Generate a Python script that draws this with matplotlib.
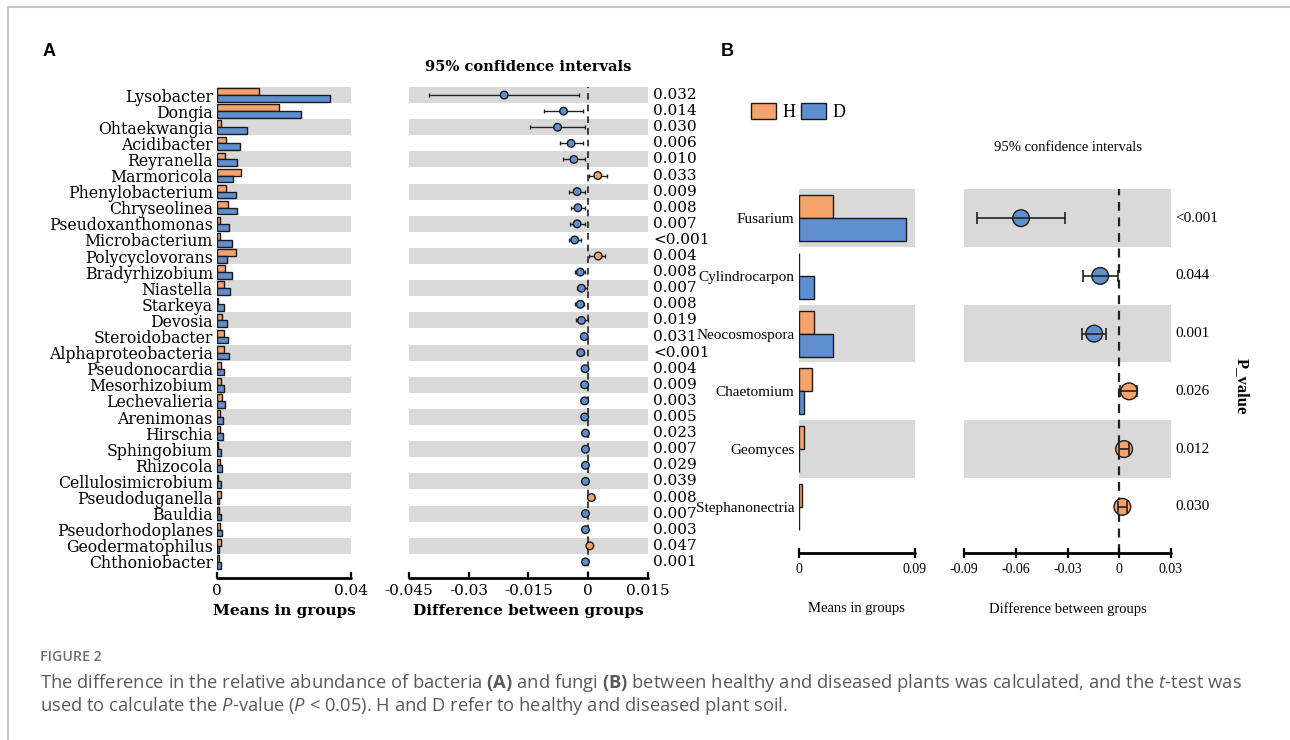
import numpy as np
import matplotlib
matplotlib.use("Agg")
from matplotlib import pyplot as plt
from matplotlib.patches import Patch
from matplotlib.lines import Line2D
from matplotlib import transforms

W, H = 1290, 740
ORANGE = "#F5A26B"
BLUE = "#5F8FD0"
BAND = "#d9d9d9"
EDGE = "#1a1a1a"

# ---- panel A: bacteria ----
genera_a = ["Lysobacter", "Dongia", "Ohtaekwangia", "Acidibacter", "Reyranella",
            "Marmoricola", "Phenylobacterium", "Chryseolinea", "Pseudoxanthomonas",
            "Microbacterium", "Polycyclovorans", "Bradyrhizobium", "Niastella",
            "Starkeya", "Devosia", "Steroidobacter", "Alphaproteobacteria",
            "Pseudonocardia", "Mesorhizobium", "Lechevalieria", "Arenimonas",
            "Hirschia", "Sphingobium", "Rhizocola", "Cellulosimicrobium",
            "Pseudoduganella", "Bauldia", "Pseudorhodoplanes", "Geodermatophilus",
            "Chthoniobacter"]
mean_h_a = [0.0124, 0.0186, 0.0011, 0.0026, 0.0025, 0.0071, 0.0027, 0.0034, 0.0009,
            0.0010, 0.0058, 0.0025, 0.0021, 0.0002, 0.0014, 0.0021, 0.0020, 0.0013,
            0.0012, 0.0015, 0.0009, 0.0010, 0.0004, 0.0008, 0.0004, 0.0011, 0.0005,
            0.0010, 0.0012, 0.0006]
mean_d_a = [0.0337, 0.0250, 0.0089, 0.0069, 0.0061, 0.0047, 0.0056, 0.0061, 0.0037,
            0.0044, 0.0031, 0.0045, 0.0040, 0.0020, 0.0031, 0.0034, 0.0036, 0.0022,
            0.0021, 0.0025, 0.0017, 0.0017, 0.0011, 0.0014, 0.0011, 0.0005, 0.0012,
            0.0016, 0.0007, 0.0012]
diff_a = [-0.0211, -0.0062, -0.0077, -0.0043, -0.0036, 0.0024, -0.0028, -0.0026,
          -0.0028, -0.0034, 0.0025, -0.0020, -0.0017, -0.0020, -0.0017, -0.0010,
          -0.0019, -0.0008, -0.0009, -0.0009, -0.0009, -0.0007, -0.0007, -0.0007,
          -0.0007, 0.0008, -0.0007, -0.0007, 0.0004, -0.0007]
lo_a = [-0.0401, -0.0112, -0.0146, -0.0072, -0.0064, 0.0002, -0.0048, -0.0044,
        -0.0047, -0.0048, 0.0003, -0.0033, -0.0028, -0.0033, -0.0030, -0.0018,
        -0.0027, -0.0013, -0.0017, -0.0017, -0.0016, -0.0012, -0.0013, -0.0012,
        -0.0012, 0.0000, -0.0012, -0.0011, 0.0000, -0.0011]
hi_a = [-0.0022, -0.0014, -0.0008, -0.0014, -0.0009, 0.0048, -0.0008, -0.0009,
        -0.0009, -0.0019, 0.0041, -0.0008, -0.0003, -0.0010, -0.0001, -0.0003,
        -0.0010, -0.0003, -0.0002, -0.0002, -0.0002, -0.0002, -0.0002, -0.0002,
        -0.0002, 0.0015, -0.0002, -0.0003, 0.0008, -0.0003]
pval_a = ["0.032", "0.014", "0.030", "0.006", "0.010", "0.033", "0.009", "0.008",
          "0.007", "<0.001", "0.004", "0.008", "0.007", "0.008", "0.019", "0.031",
          "<0.001", "0.004", "0.009", "0.003", "0.005", "0.023", "0.007", "0.029",
          "0.039", "0.008", "0.007", "0.003", "0.047", "0.001"]
xticks_bar_a = [0, 0.04]
xticklabels_bar_a = ["0", "0.04"]
xticks_ci_a = [-0.045, -0.03, -0.015, 0, 0.015]
xticklabels_ci_a = ["-0.045", "-0.03", "-0.015", "0", "0.015"]

# ---- panel B: fungi ----
genera_b = ["Fusarium", "Cylindrocarpon", "Neocosmospora", "Chaetomium",
            "Geomyces", "Stephanonectria"]
mean_h_b = [0.0265, 0.0005, 0.0118, 0.0100, 0.0041, 0.0028]
mean_d_b = [0.0830, 0.0116, 0.0263, 0.0041, 0.0003, 0.0002]
diff_b = [-0.0570, -0.0110, -0.0145, 0.0058, 0.0029, 0.0019]
lo_b = [-0.0827, -0.0211, -0.0217, 0.0006, 0.0002, -0.0008]
hi_b = [-0.0314, -0.0004, -0.0076, 0.0103, 0.0060, 0.0048]
pval_b = ["<0.001", "0.044", "0.001", "0.026", "0.012", "0.030"]
xticks_bar_b = [0, 0.09]
xticklabels_bar_b = ["0", "0.09"]
xticks_ci_b = [-0.09, -0.06, -0.03, 0, 0.03]
xticklabels_ci_b = ["-0.09", "-0.06", "-0.03", "0", "0.03"]

caption_head = "FIGURE 2"
caption_1 = ("The difference in the relative abundance of bacteria $\\mathbf{(A)}$ and fungi "
             "$\\mathbf{(B)}$ between healthy and diseased plants was calculated, and the "
             "$\\mathit{t}$-test was")
caption_2 = ("used to calculate the $\\mathit{P}$-value ($\\mathit{P}$ < 0.05). H and D refer "
             "to healthy and diseased plant soil.")

plt.rcParams["mathtext.fontset"] = "custom"
plt.rcParams["mathtext.rm"] = "Open Sans"
plt.rcParams["mathtext.it"] = "Open Sans:italic"
plt.rcParams["mathtext.bf"] = "Open Sans:bold"

fig = plt.figure(figsize=(W / 100, H / 100), dpi=100)


def add_ax(left, right, top, bottom):
    return fig.add_axes([left / W, 1 - bottom / H, (right - left) / W, (bottom - top) / H])


def style_axis(ax, font, size, tdir, tlen):
    for s in ["top", "left", "right"]:
        ax.spines[s].set_visible(False)
    ax.spines["bottom"].set_linewidth(2)
    ax.spines["bottom"].set_capstyle("round")
    ax.tick_params(axis="x", direction=tdir, length=tlen, width=1.6, pad=4,
                   labelsize=size)
    for lab in ax.get_xticklabels():
        lab.set_family(font)
    ax.tick_params(axis="y", length=0)


def bands(ax, n):
    for i in range(0, n, 2):
        ax.axhspan(i - 0.5, i + 0.5, color=BAND, zorder=0, lw=0)


def bar_panel(ax, names, mh, md, hbar, font, size, xt, xtl, ylim):
    y = np.arange(len(names))
    bands(ax, len(names))
    ax.barh(y - hbar / 2, mh, height=hbar, color=ORANGE, edgecolor=EDGE, lw=1, zorder=2)
    ax.barh(y + hbar / 2, md, height=hbar, color=BLUE, edgecolor=EDGE, lw=1, zorder=2)
    ax.set_xlim(xt[0], xt[-1])
    ax.set_ylim(*ylim)
    ax.set_yticks(y)
    ax.set_yticklabels(names, family=font, fontsize=size)
    ax.tick_params(axis="y", pad=3)
    ax.set_xticks(xt)
    ax.set_xticklabels(xtl)


def ci_panel(ax, diff, lo, hi, pv, msize, cap, elw, font, size, xt, xtl, ylim,
             dash_lw, err_on_top):
    diff = np.array(diff)
    y = np.arange(len(diff))
    bands(ax, len(diff))
    ax.errorbar(diff, y, xerr=[diff - np.array(lo), np.array(hi) - diff], fmt="none",
                ecolor="#222222", elinewidth=elw, capsize=cap, capthick=elw,
                zorder=4 if err_on_top else 2)
    colors = np.where(diff > 0, ORANGE, BLUE)
    ax.scatter(diff, y, s=msize, c=colors, edgecolors=EDGE, linewidths=1, zorder=3)
    ax.axvline(0, color="#222222", ls=(0, (4, 3)), lw=dash_lw, zorder=1)
    ax.set_xlim(xt[0], xt[-1])
    ax.set_ylim(*ylim)
    ax.set_yticks([])
    ax.set_xticks(xt)
    ax.set_xticklabels(xtl)
    trans = transforms.blended_transform_factory(ax.transAxes, ax.transData)
    for yi, p in zip(y, pv):
        ax.text(1.021, yi, p, transform=trans, va="center", ha="left",
                family=font, fontsize=size)


# panel A
SA = "DejaVu Serif"
ax1 = add_ax(217, 351, 87, 578)
bar_panel(ax1, genera_a, mean_h_a, mean_d_a, 0.42, SA, 11.3, xticks_bar_a,
          xticklabels_bar_a, (30.0, -0.5))
style_axis(ax1, SA, 11, "in", 4)
ax1.set_xlabel("Means in groups", family=SA, fontsize=11, fontweight="bold")
ax1.xaxis.set_label_coords(0.5, -0.052)

ax2 = add_ax(409, 648, 87, 578)
ci_panel(ax2, diff_a, lo_a, hi_a, pval_a, 30, 1.5, 1.0, SA, 11, xticks_ci_a,
         xticklabels_ci_a, (30.0, -0.5), 1.2, False)
style_axis(ax2, SA, 11, "in", 4)
ax2.set_xlabel("Difference between groups", family=SA, fontsize=11, fontweight="bold")
ax2.xaxis.set_label_coords(0.5, -0.052)
ax2.text(0.5, 1.041, "95% confidence intervals", transform=ax2.transAxes,
         ha="center", va="center", family=SA, fontsize=10.5, fontweight="bold")

# panel B
SB = "Liberation Serif"
ax3 = add_ax(798.7, 915, 189.3, 553)
bar_panel(ax3, genera_b, mean_h_b, mean_d_b, 0.4, SB, 11, xticks_bar_b,
          xticklabels_bar_b, (5.8, -0.5))
style_axis(ax3, SB, 10, "inout", 7)
ax3.set_xlabel("Means in groups", family=SB, fontsize=10.5)
ax3.xaxis.set_label_coords(0.5, -0.135)

ax4 = add_ax(964.3, 1170.7, 189.3, 553)
ci_panel(ax4, diff_b, lo_b, hi_b, pval_b, 145, 4, 1.2, SB, 11, xticks_ci_b,
         xticklabels_ci_b, (5.8, -0.5), 1.6, True)
style_axis(ax4, SB, 10, "inout", 7)
ax4.set_xlabel("Difference between groups", family=SB, fontsize=10.5)
ax4.xaxis.set_label_coords(0.5, -0.135)
ax4.text(0.5, 1.1136, "95% confidence intervals", transform=ax4.transAxes,
         ha="center", va="center", family=SB, fontsize=10.5)
ax4.text(1.345, 0.459, "P_value", transform=ax4.transAxes, rotation=270,
         ha="center", va="center", family=SB, fontsize=12, fontweight="bold")

handles = [Patch(facecolor=ORANGE, edgecolor=EDGE, lw=1),
           Patch(facecolor=BLUE, edgecolor=EDGE, lw=1)]
fig.legend(handles, ["H", "D"], ncol=2, loc="center left",
           bbox_to_anchor=(751 / W, 1 - 112 / H), frameon=False,
           prop={"family": SB, "size": 13}, handlelength=1.4, handleheight=1.05,
           columnspacing=0.3, handletextpad=0.35, borderpad=0, borderaxespad=0)

# panel letters
fig.text(43 / W, 1 - 51 / H, "A", family="Liberation Sans", fontweight="bold",
         fontsize=13, va="center", ha="left")
fig.text(721 / W, 1 - 51 / H, "B", family="Liberation Sans", fontweight="bold",
         fontsize=13, va="center", ha="left")

# caption
fig.text(40 / W, 1 - 657 / H, caption_head, family="Open Sans", fontweight="semibold",
         fontsize=10.2, color="#6e6e6e", va="center", ha="left")
fig.text(40 / W, 1 - 683 / H, caption_1, family="Open Sans", fontsize=13.2,
         color="#5a5a5a", va="center", ha="left")
fig.text(40 / W, 1 - 706 / H, caption_2, family="Open Sans", fontsize=13.2,
         color="#5a5a5a", va="center", ha="left")

# light frame (top + left)
fig.add_artist(Line2D([8 / W, 8 / W, 1.0], [0.0, 1 - 7 / H, 1 - 7 / H],
                      transform=fig.transFigure, color="#c8c8c8", lw=1.5))

fig.savefig("out.png", dpi=100)
